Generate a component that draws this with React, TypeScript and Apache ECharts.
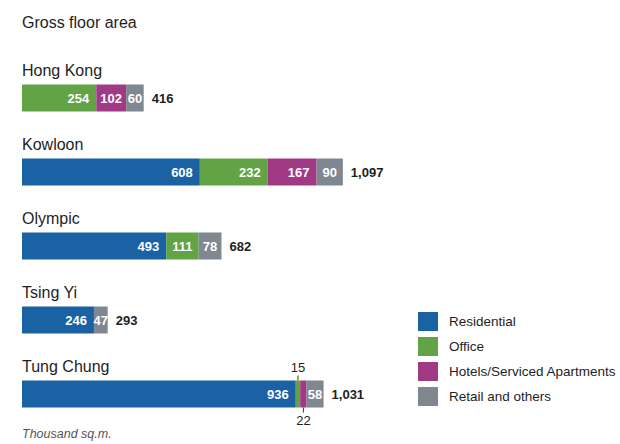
import React, { useEffect, useRef } from "react";
import * as echarts from "echarts";

const categories = ["Hong Kong", "Kowloon", "Olympic", "Tsing Yi", "Tung Chung"];
const seriesNames = ["Residential", "Office", "Hotels/Serviced Apartments", "Retail and others"];
const residential = [0, 608, 493, 246, 936];
const office = [254, 232, 111, 0, 15];
const hotels = [102, 167, 0, 0, 22];
const retail = [60, 90, 78, 47, 58];
const colors = ["#1b62a5", "#62a346", "#a13a85", "#7f8791"];

const FONT = "'Liberation Sans', Arial, sans-serif";
const DARK = "#1e1e1e";
const BAR_W = 27;

export default function App() {
  const ref = useRef<HTMLDivElement>(null);
  useEffect(() => {
    if (!ref.current) return;
    const chart = echarts.init(ref.current, null, { renderer: "svg" });
    const values = [residential, office, hotels, retail];
    const totals = categories.map((_, i) => values.reduce((s, arr) => s + arr[i], 0));

    // small segments get callouts
    const callouts: any[] = [];
    categories.forEach((_, i) => {
      let start = 0;
      let n = 0;
      values.forEach((arr) => {
        const v = arr[i];
        if (v > 0 && v < 30) {
          callouts.push([start + v / 2, i, v, n % 2 === 0 ? -1 : 1]);
          n++;
        }
        start += v;
      });
    });

    const barSeries = values.map((arr, si) => ({
      name: seriesNames[si],
      type: "bar",
      stack: "total",
      barWidth: BAR_W,
      itemStyle: { color: colors[si] },
      data: arr.map((v) => ({
        value: v,
        label: {
          show: v >= 30,
          position: v < 130 ? "inside" : "insideRight",
          distance: 7,
        },
      })),
      label: {
        color: "#fff",
        fontWeight: "bold",
        fontSize: 13,
        fontFamily: FONT,
        formatter: (p: any) => (p.value >= 30 ? String(p.value) : ""),
      },
      emphasis: { disabled: true },
    }));

    const option: any = {
      animation: false,
      title: [
        {
          text: "Gross floor area",
          left: 22,
          top: 14,
          padding: 0,
          textStyle: { fontFamily: FONT, fontSize: 16, fontWeight: "normal", color: DARK },
        },
        {
          text: "Thousand sq.m.",
          left: 22,
          top: 427,
          padding: 0,
          textStyle: { fontFamily: FONT, fontSize: 12.5, fontWeight: "normal", fontStyle: "italic", color: "#555" },
        },
      ],
      legend: {
        data: seriesNames,
        orient: "vertical",
        left: 418,
        top: 312,
        padding: 0,
        icon: "rect",
        itemWidth: 20,
        itemHeight: 19,
        itemGap: 6,
        selectedMode: false,
        textStyle: { fontFamily: FONT, fontSize: 13.5, color: DARK, padding: [0, 0, 0, 6] },
      },
      grid: { left: 22, top: 61, height: 370, width: 351, containLabel: false },
      xAxis: { type: "value", min: 0, max: 1200, show: false },
      yAxis: {
        type: "category",
        data: categories,
        inverse: true,
        axisLine: { show: false },
        axisTick: { show: false },
        splitLine: { show: false },
        axisLabel: {
          inside: true,
          margin: 0,
          align: "left",
          verticalAlign: "bottom",
          padding: [0, 0, 20, 0],
          fontFamily: FONT,
          fontSize: 16,
          color: DARK,
        },
        z: 10,
      },
      series: [
        ...barSeries,
        {
          type: "custom",
          name: "totals",
          data: totals.map((t, i) => [t, i]),
          encode: { x: 0, y: 1 },
          renderItem: (params: any, api: any) => {
            const p = api.coord([api.value(0), api.value(1)]);
            return {
              type: "text",
              x: p[0] + 8,
              y: p[1],
              style: {
                text: Number(api.value(0)).toLocaleString("en-US"),
                fill: DARK,
                font: `bold 13px ${FONT}`,
                align: "left",
                verticalAlign: "middle",
              },
            };
          },
        },
        {
          type: "custom",
          name: "callouts",
          data: callouts,
          encode: { x: 0, y: 1 },
          renderItem: (params: any, api: any) => {
            const p = api.coord([api.value(0), api.value(1)]);
            const dir = api.value(3);
            const edge = p[1] + dir * (BAR_W / 2);
            return {
              type: "group",
              children: [
                {
                  type: "line",
                  shape: { x1: p[0], y1: edge, x2: p[0], y2: edge + dir * 5 },
                  style: { stroke: "#333", lineWidth: 1 },
                },
                {
                  type: "text",
                  x: p[0],
                  y: edge + dir * 13,
                  style: {
                    text: String(api.value(2)),
                    fill: DARK,
                    font: `13px ${FONT}`,
                    align: "center",
                    verticalAlign: "middle",
                  },
                },
              ],
            };
          },
        },
      ],
    };
    chart.setOption(option);
    return () => chart.dispose();
  }, []);
  return <div ref={ref} style={{ width: 620, height: 444, position: "absolute", left: 0, top: 0 }} />;
}
